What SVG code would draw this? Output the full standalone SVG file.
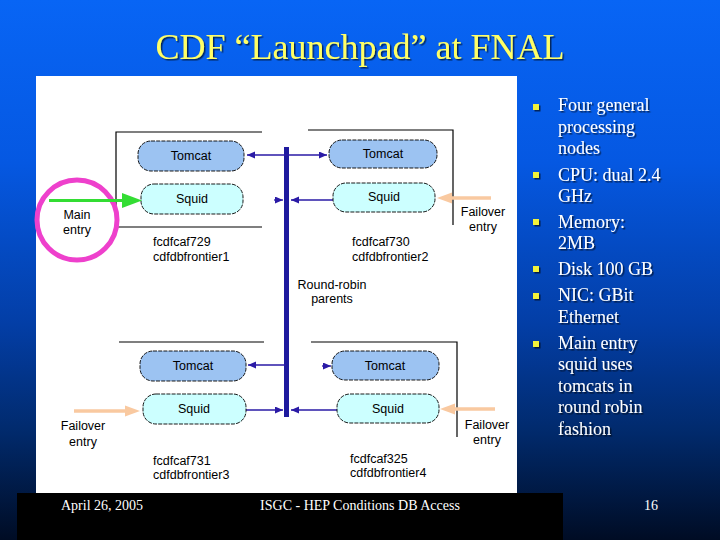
<svg xmlns="http://www.w3.org/2000/svg" width="720" height="540" viewBox="0 0 720 540">
<defs>
<linearGradient id="bg" x1="0" y1="0" x2="0" y2="1">
<stop offset="0" stop-color="#0865f5"/>
<stop offset="0.3" stop-color="#0558e2"/>
<stop offset="0.6" stop-color="#033ea6"/>
<stop offset="0.8" stop-color="#012a6c"/>
<stop offset="1" stop-color="#000c24"/>
</linearGradient>
<marker id="ah" markerUnits="userSpaceOnUse" markerWidth="9" markerHeight="8" refX="8" refY="3.5" orient="auto">
<path d="M0,0 L8,3.5 L0,7 z" fill="#2a1aa6"/>
</marker>
<filter id="sh" x="-5%" y="-20%" width="110%" height="140%">
<feDropShadow dx="1.5" dy="1.5" stdDeviation="0.6" flood-color="#000000" flood-opacity="0.6"/>
</filter>
</defs>
<style>
.tomcat{fill:#9cc3f2;stroke:#000;stroke-width:0.9;stroke-dasharray:4 1.2}
.squid{fill:#ccffff;stroke:#000;stroke-width:0.9;stroke-dasharray:4 1.2}
.lbl{font-family:"Liberation Sans",Arial,sans-serif;font-size:12.5px;fill:#000}
.mid{text-anchor:middle}
.frame{fill:none;stroke:#000;stroke-width:1.2}
.conn{fill:none;stroke:#2a1aa6;stroke-width:1.3;marker-end:url(#ah)}
.bul{font-family:"Liberation Serif","Times New Roman",serif;font-size:18px;fill:#ffffff}
.foot{font-family:"Liberation Serif","Times New Roman",serif;font-size:14px;fill:#ffffff}
.sq{fill:#f2f23a}
</style>
<rect x="0" y="0" width="720" height="540" fill="url(#bg)"/>
<text x="360" y="59" text-anchor="middle" font-family="'Liberation Serif','Times New Roman',serif" font-size="36" fill="#ffff66" filter="url(#sh)">CDF “Launchpad” at FNAL</text>
<rect x="36" y="76" width="481" height="417" fill="#ffffff"/>
<rect x="17" y="493" width="546" height="47" fill="#000000"/>
<text class="foot" x="61" y="510">April 26, 2005</text>
<text class="foot" x="360" y="510" text-anchor="middle">ISGC - HEP Conditions DB Access</text>
<text class="foot" x="651" y="510" text-anchor="middle">16</text>

<g id="bullets" filter="url(#sh)">
<rect class="sq" x="533" y="104" width="6" height="6"/>
<rect class="sq" x="533" y="172" width="6" height="6"/>
<rect class="sq" x="533" y="219" width="6" height="6"/>
<rect class="sq" x="533" y="266" width="6" height="6"/>
<rect class="sq" x="533" y="293" width="6" height="6"/>
<rect class="sq" x="533" y="341" width="6" height="6"/>
<text class="bul" x="558" y="111">Four general</text>
<text class="bul" x="558" y="133">processing</text>
<text class="bul" x="558" y="154">nodes</text>
<text class="bul" x="558" y="181">CPU: dual 2.4</text>
<text class="bul" x="558" y="202">GHz</text>
<text class="bul" x="558" y="228">Memory:</text>
<text class="bul" x="558" y="249">2MB</text>
<text class="bul" x="558" y="275">Disk 100 GB</text>
<text class="bul" x="558" y="301">NIC: GBit</text>
<text class="bul" x="558" y="323">Ethernet</text>
<text class="bul" x="558" y="349">Main entry</text>
<text class="bul" x="558" y="370">squid uses</text>
<text class="bul" x="558" y="392">tomcats in</text>
<text class="bul" x="558" y="413">round robin</text>
<text class="bul" x="558" y="435">fashion</text>
</g>

<g id="frames">
<path class="frame" d="M262,132 H116 V227 H262"/>
<path class="frame" d="M308,130 H453 V225"/>
<path class="frame" d="M119,342 H264"/>
<path class="frame" d="M311,342 H457 V437"/>
</g>

<g id="bus">
<rect x="284" y="147" width="5" height="270" fill="#1e1a9e"/>
<text class="lbl mid" x="332" y="289">Round-robin</text>
<text class="lbl mid" x="332" y="303">parents</text>
</g>

<g id="connectors">
<path class="conn" d="M286,155 H247"/>
<path class="conn" d="M286,155 H327"/>
<path class="conn" d="M333,200 H291"/>
<path class="conn" d="M274,200 H283"/>
<path class="conn" d="M286,365 H248"/>
<path class="conn" d="M246,410 H283"/>
<path class="conn" d="M337,410 H291"/>
<path class="conn" d="M322,366 H331"/>
</g>

<g id="node1">
<rect class="tomcat" x="138" y="141" width="106" height="30" rx="13"/>
<text class="lbl mid" x="191" y="160">Tomcat</text>
<rect class="squid" x="141" y="184" width="102" height="30" rx="13"/>
<text class="lbl mid" x="192" y="203">Squid</text>
<text class="lbl" x="153" y="246">fcdfcaf729</text>
<text class="lbl" x="153" y="261">cdfdbfrontier1</text>
</g>

<g id="node2">
<rect class="tomcat" x="329" y="140" width="108" height="28" rx="13"/>
<text class="lbl mid" x="383" y="158">Tomcat</text>
<rect class="squid" x="333" y="183" width="102" height="29" rx="13"/>
<text class="lbl mid" x="384" y="201">Squid</text>
<text class="lbl" x="352" y="246">fcdfcaf730</text>
<text class="lbl" x="352" y="261">cdfdbfrontier2</text>
</g>

<g id="node3">
<rect class="tomcat" x="140" y="351" width="106" height="30" rx="13"/>
<text class="lbl mid" x="193" y="370">Tomcat</text>
<rect class="squid" x="143" y="394" width="103" height="30" rx="13"/>
<text class="lbl mid" x="194" y="413">Squid</text>
<text class="lbl" x="153" y="465">fcdfcaf731</text>
<text class="lbl" x="153" y="479">cdfdbfrontier3</text>
</g>

<g id="node4">
<rect class="tomcat" x="332" y="351" width="107" height="29" rx="13"/>
<text class="lbl mid" x="385" y="370">Tomcat</text>
<rect class="squid" x="337" y="394" width="102" height="29" rx="13"/>
<text class="lbl mid" x="388" y="413">Squid</text>
<text class="lbl" x="350" y="463">fcdfcaf325</text>
<text class="lbl" x="350" y="477">cdfdbfrontier4</text>
</g>

<g id="main-entry">
<circle cx="77" cy="220" r="40" fill="none" stroke="#ee40cc" stroke-width="5"/>
<line x1="49" y1="200.5" x2="123" y2="200.5" stroke="#33dd33" stroke-width="3"/>
<polygon points="122,193 142,200.5 122,208" fill="#33dd33"/>
<text class="lbl mid" x="77" y="219">Main</text>
<text class="lbl mid" x="77" y="234">entry</text>
</g>

<g id="failover-1">
<line x1="491" y1="198" x2="451" y2="198" stroke="#f9c9a0" stroke-width="3.5"/>
<polygon points="452,192.5 437,198 452,203.5" fill="#f9c9a0"/>
<text class="lbl mid" x="483" y="216">Failover</text>
<text class="lbl mid" x="483" y="231">entry</text>
</g>

<g id="failover-2">
<line x1="74" y1="411" x2="126" y2="411" stroke="#f9c9a0" stroke-width="3.5"/>
<polygon points="125,405.5 140,411 125,416.5" fill="#f9c9a0"/>
<text class="lbl mid" x="83" y="430">Failover</text>
<text class="lbl mid" x="83" y="446">entry</text>
</g>

<g id="failover-3">
<line x1="495" y1="409" x2="454" y2="409" stroke="#f9c9a0" stroke-width="3.5"/>
<polygon points="455,403.5 440,409 455,414.5" fill="#f9c9a0"/>
<text class="lbl mid" x="487" y="429">Failover</text>
<text class="lbl mid" x="487" y="444">entry</text>
</g>
</svg>
